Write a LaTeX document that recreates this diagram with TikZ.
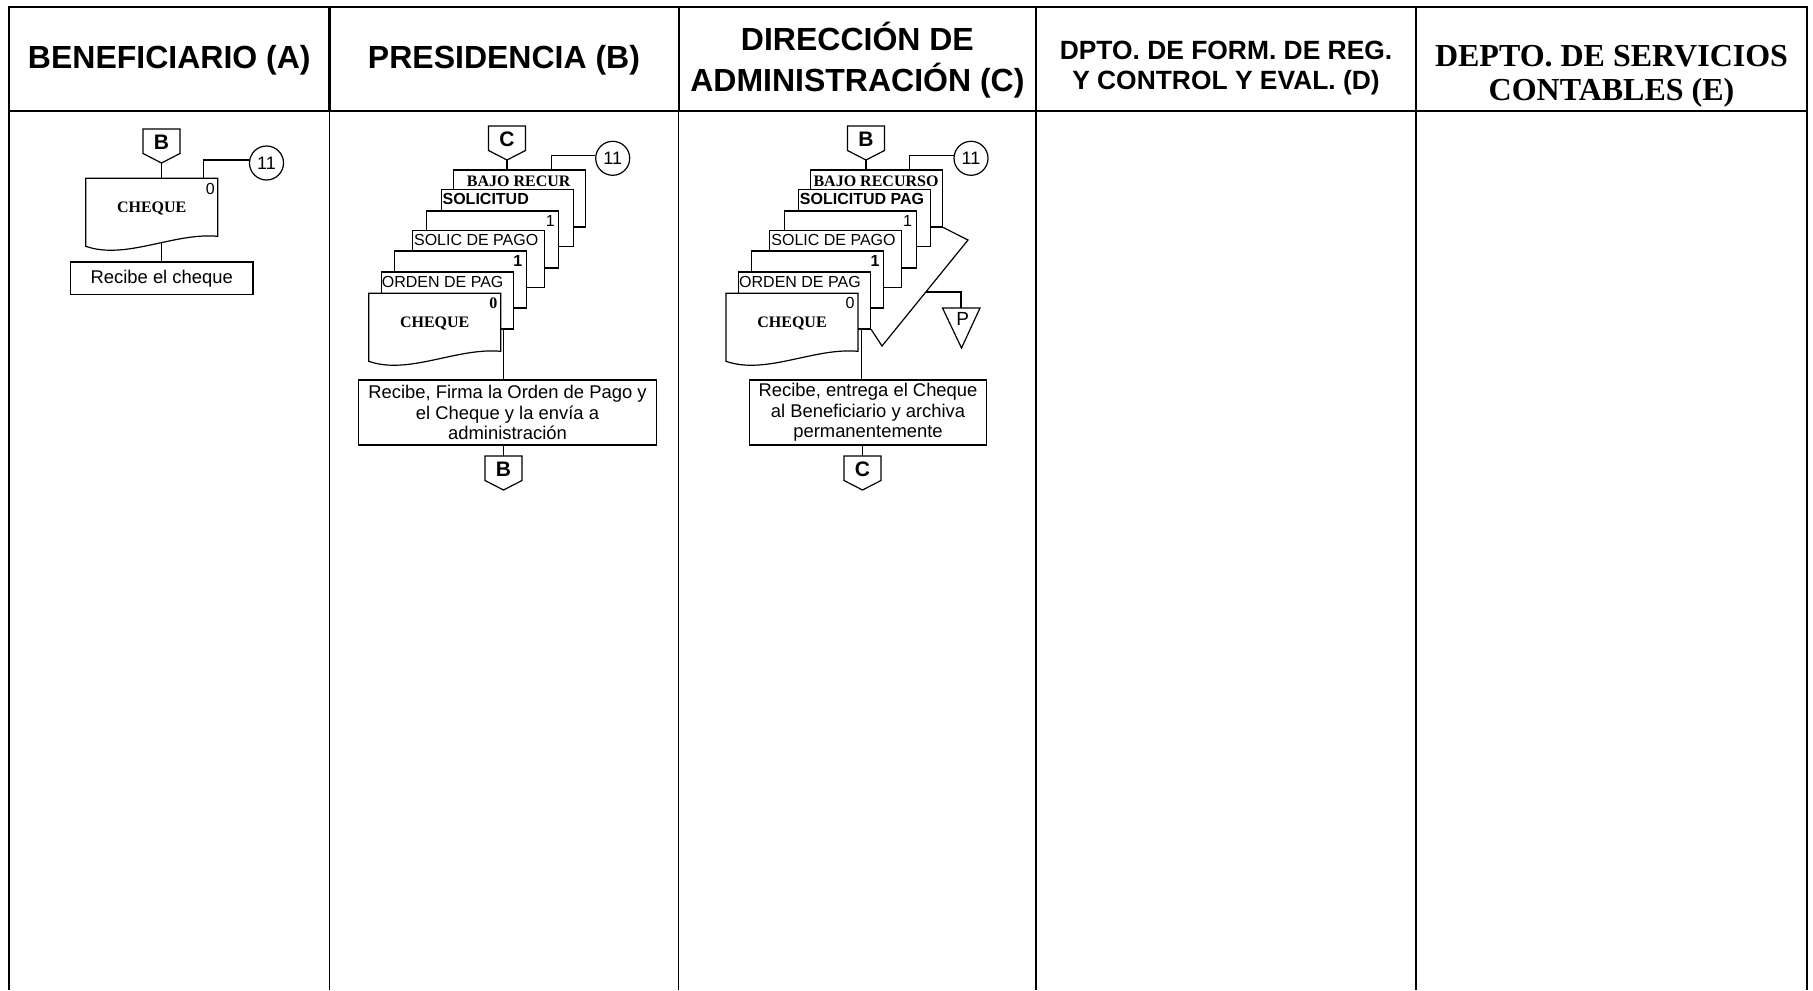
\documentclass[tikz,border=0pt]{standalone}
\usepackage{fontspec}
\setmainfont{Liberation Sans}
\newfontfamily\serifbf{Liberation Serif}
\usetikzlibrary{calc}
\tikzset{
  frame/.style={line width=1.2pt},
  lane/.style={line width=0.55pt},
  shp/.style={draw, line width=0.6pt, fill=white},
  conn/.style={line width=0.6pt},
  hdr/.style={inner sep=0pt, align=center, font=\bfseries\fontsize{16}{20.5}\selectfont},
  sheet/.style={draw, fill=white, line width=0.6pt, minimum width=66pt, minimum height=28.5pt, inner sep=0pt, anchor=north west},
  sheettxt/.style={inner sep=0pt, font=\fontsize{8}{9}\selectfont},
  sheetbf/.style={inner sep=0pt, font=\bfseries\fontsize{8}{9}\selectfont},
  sheetserif/.style={inner sep=0pt, font=\serifbf\bfseries\fontsize{8}{9}\selectfont},
  circ/.style={draw, circle, line width=0.6pt, minimum size=17pt, inner sep=0pt, font=\fontsize{9}{10}\selectfont},
  procbox/.style={draw, fill=white, line width=0.6pt, inner sep=0pt, align=center, font=\fontsize{9.2}{10.3}\selectfont},
  offpage/.pic={
    \draw[shp] (-18.5,0) -- (18.5,0) -- (18.5,24.5) -- (0,34) -- (-18.5,24.5) -- cycle;
    \node[inner sep=0pt, font=\bfseries\fontsize{10.5}{12}\selectfont] (-lbl) at (0,13) {#1};
    \coordinate (-top) at (0,0);
    \coordinate (-tip) at (0,34);
  },
  docshape/.pic={
    \draw[shp] (0,0) -- (132,0) -- (132,58) .. controls (88,54) and (40,82) .. (0,68) -- cycle;
    \coordinate (-nw) at (0,0);
    \coordinate (-wave) at (75.5,64.4);
  }
}
\begin{document}
\begin{tikzpicture}[x=0.5pt,y=-0.5pt]
\useasboundingbox (0,0) rectangle (1813,990);

% ---------- swimlane frame ----------
\draw[frame] (9,990) -- (9,7) -- (1807,7) -- (1807,111);
\draw[lane, line width=0.8pt] (1807,111) -- (1807,990);
\draw[frame] (9,111) -- (1807,111);
\foreach \xx in {329.5,678.7,1036,1416} {
  \draw[frame] (\xx,7) -- (\xx,111);
  \draw[lane] (\xx,111) -- (\xx,990);
}

% ---------- headers ----------
\node[hdr] (hA) at (169.3,60) {BENEFICIARIO (A)};
\node[hdr] (hB) at (504,60) {PRESIDENCIA (B)};
\node[hdr] (hC) at (857.4,60) {DIRECCIÓN DE\\ADMINISTRACIÓN (C)};
\node[hdr, font=\bfseries\fontsize{13.2}{15}\selectfont] (hD) at (1226,68.5) {DPTO. DE FORM. DE REG.\\Y CONTROL Y EVAL. (D)};
\node[hdr, font=\serifbf\bfseries\fontsize{16}{17.3}\selectfont] (hE) at (1611.5,76.5) {DEPTO. DE SERVICIOS\\CONTABLES (E)};

% ---------- column A ----------
\pic (oA) at (161.5,129) {offpage=B};
\pic (dA) at (85.7,178.3) {docshape};
\node[sheetserif] (dAt) at ($(dA-nw)+(66,30)$) {CHEQUE};
\node[sheettxt, anchor=base east] (dAn) at ($(dA-nw)+(129.5,16.5)$) {0};
\node[circ] (kA) at (266.5,163) {11};
\coordinate (kAfoot) at (203.3,178.3);
\draw[conn] (oA-tip) -- (oA-tip |- dA-nw);
\draw[conn] (kAfoot) |- (kA.170);
\node[procbox, minimum width=91.25pt, minimum height=16.25pt] (pA) at (161.75,278.25) {Recibe el cheque};
\draw[conn] (dA-wave) -- (dA-wave |- pA.north);

% ---------- column B ----------
\pic (oB) at (507,126) {offpage=C};
\node[sheet] (b0) at (452.7,169.3) {};
\node[sheetserif] (b0t) at ($(b0.north west)+(66,11.5)$) {BAJO RECUR};
\node[sheet] (b1) at (440.7,188.8) {};
\node[sheetbf, anchor=base west] (b1t) at ($(b1.north west)+(1.5,16)$) {SOLICITUD};
\node[sheet] (b2) at (426.2,210.3) {};
\node[sheettxt, anchor=base east] (b2t) at ($(b2.north west)+(129,15.7)$) {1};
\node[sheet] (b3) at (411.7,229.8) {};
\node[sheettxt, anchor=base west] (b3t) at ($(b3.north west)+(2,16)$) {SOLIC DE PAGO};
\node[sheet] (b4) at (393.7,250.3) {};
\node[sheetbf, anchor=base east] (b4t) at ($(b4.north west)+(129,16)$) {1};
\node[sheet] (b5) at (380.7,271.3) {};
\node[sheettxt, anchor=base west] (b5t) at ($(b5.north west)+(0.8,16)$) {ORDEN DE PAG};
\pic (dB) at (368.7,293.3) {docshape};
\node[sheetserif, anchor=base east] (dBn) at ($(dB-nw)+(129,15)$) {0};
\node[sheetserif] (dBt) at ($(dB-nw)+(66,30)$) {CHEQUE};
\draw[conn] (oB-tip) -- (oB-tip |- b0.north);
\node[circ] (kB) at (612.7,158.3) {11};
\coordinate (kBfoot) at (551.7,169.3);
\draw[conn] (kBfoot) |- (kB.170);
\node[procbox, minimum width=149.2pt, minimum height=32.5pt] (pB) at (507.5,412.5)
  {Recibe, Firma la Orden de Pago y\\el Cheque y la envía a\\administración};
\coordinate (bOut) at (503.5,328.3);
\draw[conn] (bOut) -- (bOut |- pB.north);
\pic (oB2) at (503.5,456) {offpage=B};
\draw[conn] (oB2-top |- pB.south) -- (oB2-top);

% ---------- column C ----------
\pic (oC) at (866,126) {offpage=B};
\node[sheet] (c0) at (810,169.3) {};
\node[sheetserif] (c0t) at ($(c0.north west)+(66,11.5)$) {BAJO RECURSO};
\node[sheet] (c1) at (798,188.8) {};
\node[sheetbf, anchor=base west] (c1t) at ($(c1.north west)+(1.5,16)$) {SOLICITUD PAG};
\node[sheet] (c2) at (783.5,210.3) {};
\node[sheettxt, anchor=base east] (c2t) at ($(c2.north west)+(129,15.7)$) {1};
\node[sheet] (c3) at (769,229.8) {};
\node[sheettxt, anchor=base west] (c3t) at ($(c3.north west)+(2,16)$) {SOLIC DE PAGO};
\node[sheet] (c4) at (751,250.3) {};
\node[sheetbf, anchor=base east] (c4t) at ($(c4.north west)+(129,16)$) {1};
\node[sheet] (c5) at (738,271.3) {};
\node[sheettxt, anchor=base west] (c5t) at ($(c5.north west)+(0.8,16)$) {ORDEN DE PAG};
\pic (dC) at (726,293.3) {docshape};
\node[sheettxt, anchor=base east] (dCn) at ($(dC-nw)+(129,15)$) {0};
\node[sheetserif] (dCt) at ($(dC-nw)+(66,30)$) {CHEQUE};
\draw[conn] (oC-tip) -- (oC-tip |- c0.north);
\node[circ] (kC) at (971,158.3) {11};
\coordinate (kCfoot) at (909.3,169.3);
\draw[conn] (kCfoot) |- (kC.170);
% archive bracket
\coordinate (zr) at (968,240);
\coordinate (zb) at (882,346);
\draw[conn] (c0.south east) -- (zr) -- (zb) -- (c5.south east);
\coordinate (zp) at ($(zr)!0.49!(zb)$);
\coordinate (pTop) at (961,308);
\draw[conn] (zp) -| (pTop);
\draw[shp] (942.5,308) -- (980,308) -- (961.5,348) -- cycle;
\node[inner sep=0pt, font=\fontsize{9.5}{11}\selectfont] (pP) at (962.7,319) {P};
\node[procbox, minimum width=118.7pt, minimum height=32.5pt] (pC) at (868,412.5)
  {Recibe, entrega el Cheque\\al Beneficiario y archiva\\permanentemente};
\coordinate (cOut) at (861.5,328.3);
\draw[conn] (cOut) -- (cOut |- pC.north);
\pic (oC2) at (862.5,456) {offpage=C};
\draw[conn] (oC2-top |- pC.south) -- (oC2-top);
\end{tikzpicture}
\end{document}
